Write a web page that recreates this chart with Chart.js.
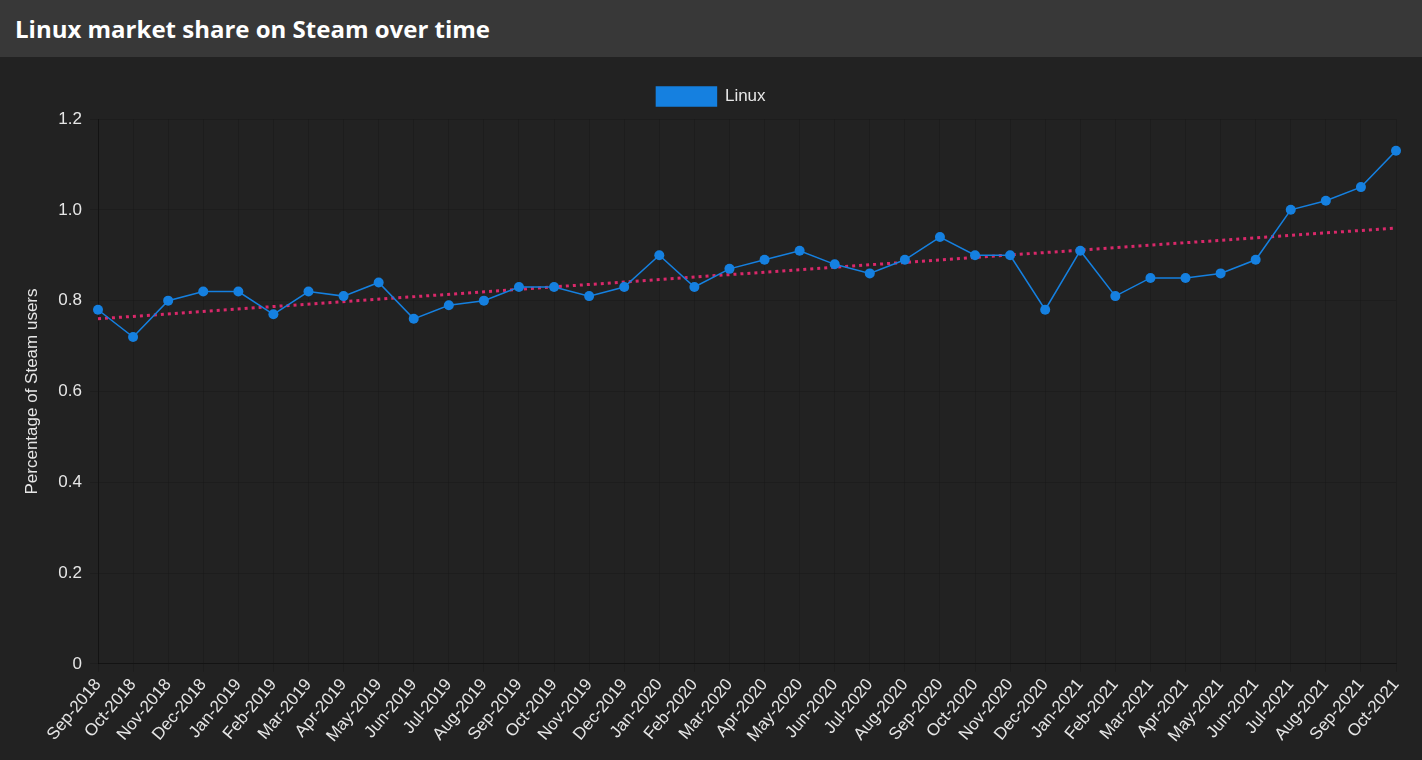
<!DOCTYPE html>
<html>
<head>
<meta charset="utf-8">
<script src="https://cdn.jsdelivr.net/npm/chart.js@4/dist/chart.umd.min.js"></script>
<style>
  html, body { margin: 0; padding: 0; background: #222222; }
  .header {
    height: 57px;
    background: #383838;
    color: #ffffff;
    font-family: "Open Sans", sans-serif;
    font-weight: bold;
    font-size: 24px;
    line-height: 57px;
    padding-left: 15px;
  }
  .wrap { position: relative; width: 1422px; height: 703px; }
</style>
</head>
<body>
<div class="header">Linux market share on Steam over time</div>
<div class="wrap"><canvas id="steamChart"></canvas></div>
<script>
// Meses del eje x
const months = ['Sep-2018', 'Oct-2018', 'Nov-2018', 'Dec-2018', 'Jan-2019', 'Feb-2019', 'Mar-2019', 'Apr-2019',
  'May-2019', 'Jun-2019', 'Jul-2019', 'Aug-2019', 'Sep-2019', 'Oct-2019', 'Nov-2019', 'Dec-2019',
  'Jan-2020', 'Feb-2020', 'Mar-2020', 'Apr-2020', 'May-2020', 'Jun-2020', 'Jul-2020', 'Aug-2020',
  'Sep-2020', 'Oct-2020', 'Nov-2020', 'Dec-2020', 'Jan-2021', 'Feb-2021', 'Mar-2021', 'Apr-2021',
  'May-2021', 'Jun-2021', 'Jul-2021', 'Aug-2021', 'Sep-2021', 'Oct-2021'];

// Porcentaje de usuarios de Linux
const linuxShare = [0.78, 0.72, 0.80, 0.82, 0.82, 0.77, 0.82, 0.81,
  0.84, 0.76, 0.79, 0.80, 0.83, 0.83, 0.81, 0.83,
  0.90, 0.83, 0.87, 0.89, 0.91, 0.88, 0.86, 0.89,
  0.94, 0.90, 0.90, 0.78, 0.91, 0.81, 0.85, 0.85,
  0.86, 0.89, 1.00, 1.02, 1.05, 1.13];

// Línea de tendencia: solo los extremos
const trendStart = 0.76;
const trendEnd = 0.96;
const trendData = months.map((m, i) => i === 0 ? trendStart : (i === months.length - 1 ? trendEnd : null));

const ctx = document.getElementById('steamChart').getContext('2d');
Chart.defaults.font.family = "'Liberation Sans', Arial, sans-serif";
Chart.defaults.font.size = 17;
Chart.defaults.color = '#e6e6e6';

// un poco más de espacio bajo la leyenda
const legendGap = {
  id: 'legendGap',
  beforeUpdate(chart) {
    const legend = chart.legend;
    if (legend && !legend._gapPatched) {
      const fit = legend.fit;
      legend.fit = function () { fit.call(this); this.height += 3; };
      legend._gapPatched = true;
    }
  }
};

new Chart(ctx, {
  type: 'line',
  data: {
    labels: months,
    datasets: [
      {
        label: 'Linux',
        data: linuxShare,
        borderColor: '#1580e0',
        backgroundColor: '#1580e0',
        borderWidth: 1.5,
        pointRadius: 5,
        pointHoverRadius: 6,
        pointBorderWidth: 0,
        tension: 0
      },
      {
        label: 'Trend',
        data: trendData,
        spanGaps: true,
        borderColor: '#d9286a',
        backgroundColor: '#d9286a',
        borderWidth: 3,
        borderDash: [3, 4],
        pointRadius: 0,
        fill: false
      }
    ]
  },
  options: {
    responsive: true,
    maintainAspectRatio: false,
    animation: false,
    layout: { padding: { left: 17, right: 17, top: 13, bottom: 11 } },
    plugins: {
      legend: {
        position: 'top',
        labels: {
          boxWidth: 60,
          boxHeight: 19,
          padding: 17,
          color: '#e6e6e6',
          filter: (item) => item.text === 'Linux'
        }
      },
      tooltip: { enabled: false }
    },
    scales: {
      x: {
        grid: { color: 'rgba(0,0,0,0.12)' },
        border: { color: 'rgba(0,0,0,0.35)' },
        ticks: { color: '#e6e6e6', maxRotation: 50, minRotation: 50, autoSkip: false }
      },
      y: {
        min: 0,
        max: 1.2,
        afterFit: (scale) => { scale.width = 81; },
        grid: { color: 'rgba(0,0,0,0.12)' },
        border: { color: 'rgba(0,0,0,0.35)' },
        ticks: {
          stepSize: 0.2,
          padding: 8,
          color: '#e6e6e6',
          callback: (v) => v === 0 ? '0' : v.toFixed(1)
        },
        title: { display: true, text: 'Percentage of Steam users', color: '#e6e6e6', padding: 5 }
      },
      // eje vacío a la derecha, solo reserva espacio
      yRight: {
        position: 'right',
        afterFit: (scale) => { scale.width = 9; },
        grid: { display: false },
        border: { display: false },
        ticks: { display: false }
      }
    }
  },
  plugins: [legendGap]
});
</script>
</body>
</html>
